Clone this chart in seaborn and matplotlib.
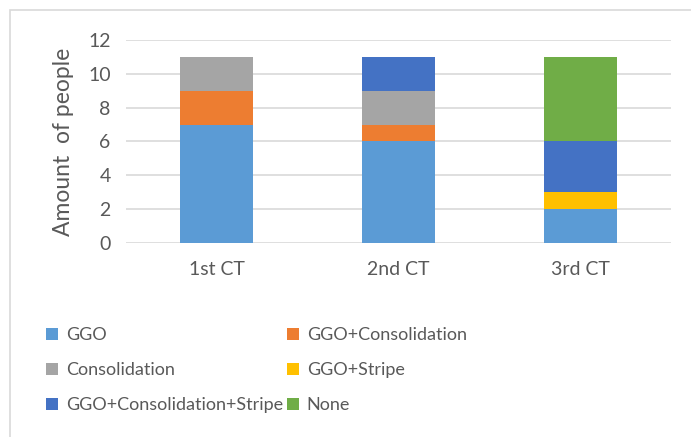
import numpy as np
import pandas as pd
import matplotlib
matplotlib.use("Agg")
import matplotlib.pyplot as plt
from matplotlib.patches import Patch, Rectangle
import seaborn as sns

# data
scans = ["1st CT", "2nd CT", "3rd CT"]
ggo = [7, 6, 2]
ggo_consolidation = [2, 1, 0]
consolidation = [2, 2, 0]
ggo_stripe = [0, 0, 1]
ggo_consolidation_stripe = [0, 2, 3]
none = [0, 0, 5]

series = ["GGO", "GGO+Consolidation", "Consolidation", "GGO+Stripe",
          "GGO+Consolidation+Stripe", "None"]
values = [ggo, ggo_consolidation, consolidation, ggo_stripe,
          ggo_consolidation_stripe, none]
colors = ["#5B9BD5", "#ED7D31", "#A5A5A5", "#FFC000", "#4472C4", "#70AD47"]

df = pd.DataFrame(dict(zip(series, values)), index=scans)
stacked = df.cumsum(axis=1)

sns.set_style("white")
plt.rcParams['font.family'] = ['Lato', 'DejaVu Sans']
text_color = "#595959"

fig = plt.figure(figsize=(6.91, 4.37), dpi=100)
ax = fig.add_axes([126/691, 1 - 243/437, 545/691, 203/437])

# stacked bars: draw cumulative totals, top layer first
for name, col in reversed(list(zip(series, colors))):
    sns.barplot(x=scans, y=stacked[name].values, color=col, width=0.4,
                saturation=1, linewidth=0, edgecolor="none", ax=ax, zorder=3)

ax.set_ylim(0, 12)
ax.set_yticks(range(0, 13, 2))
ax.grid(axis="y", color="#d9d9d9", linewidth=1.2, zorder=0)
ax.set_axisbelow(True)
sns.despine(ax=ax, left=True, bottom=True)
ax.tick_params(axis="both", length=0, labelsize=14, colors=text_color)
ax.tick_params(axis="y", pad=11)
ax.tick_params(axis="x", pad=13)
ax.set_ylabel("Amount  of people", fontsize=16.5, color=text_color, labelpad=10)
ax.set_xlabel("")

# legend filled row by row, as in the original
order = [0, 2, 4, 1, 3, 5]
handles = [Patch(facecolor=colors[i], edgecolor="none") for i in order]
labels = [series[i] for i in order]
fig.legend(handles, labels, ncol=2, loc="upper left",
           bbox_to_anchor=(30/691, 1 - 311/437), frameon=False,
           fontsize=13, labelcolor=text_color, handlelength=0.65,
           handleheight=0.65, handletextpad=0.45, columnspacing=0.2,
           labelspacing=1.05)

fig.patches.append(Rectangle((10/691, -0.1), 2, 1.1 - 10/437,
                             transform=fig.transFigure, fill=False,
                             edgecolor="#d9d9d9", linewidth=1.2))

plt.savefig("out.png", dpi=100)
